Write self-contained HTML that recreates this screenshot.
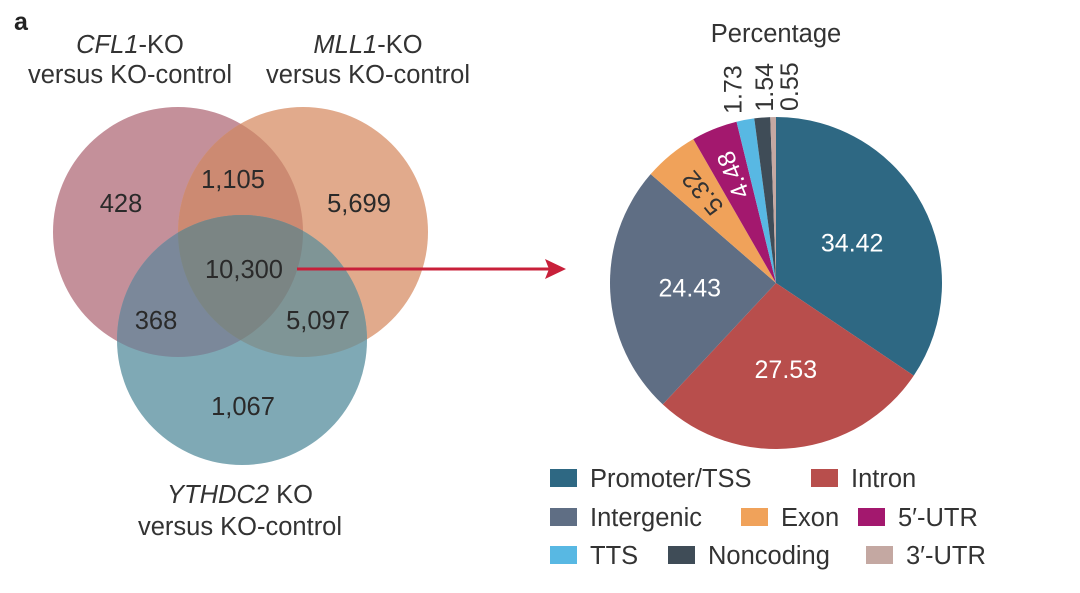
<!DOCTYPE html>
<html><head><meta charset="utf-8"><style>
body{margin:0;background:#fff;}
svg{display:block;font-family:"Liberation Sans",sans-serif;}
</style></head><body>
<svg id="c" width="1080" height="593" viewBox="0 0 1080 593">
<defs>
<clipPath id="cL"><circle cx="178" cy="232" r="125"/></clipPath>
<clipPath id="cR"><circle cx="303" cy="232" r="125"/></clipPath>
</defs>
<text x="14" y="30" font-size="25" font-weight="bold" fill="#222">a</text>
<g font-size="25.5" fill="#333" text-anchor="middle">
<text x="130" y="53"><tspan font-style="italic">CFL1</tspan>-KO</text>
<text x="130" y="83">versus KO-control</text>
<text x="368" y="53"><tspan font-style="italic">MLL1</tspan>-KO</text>
<text x="368" y="83">versus KO-control</text>
<text x="240" y="503"><tspan font-style="italic">YTHDC2</tspan> KO</text>
<text x="240" y="535">versus KO-control</text>
</g>
<g>
<circle cx="178" cy="232" r="125" fill="#c4909a"/>
<circle cx="303" cy="232" r="125" fill="#e1aa8c"/>
<circle cx="303" cy="232" r="125" fill="#cc8a72" clip-path="url(#cL)"/>
<circle cx="242" cy="340" r="125" fill="#7fa9b5"/>
<circle cx="242" cy="340" r="125" fill="#7b889a" clip-path="url(#cL)"/>
<g clip-path="url(#cR)"><circle cx="242" cy="340" r="125" fill="#7f9596"/></g>
<g clip-path="url(#cL)"><g clip-path="url(#cR)"><circle cx="242" cy="340" r="125" fill="#7b8584"/></g></g>
</g>
<g font-size="25.5" fill="#2a2a2a" text-anchor="middle">
<text x="121" y="212">428</text>
<text x="233" y="188">1,105</text>
<text x="359" y="212">5,699</text>
<text x="244" y="278">10,300</text>
<text x="156" y="329">368</text>
<text x="318" y="329">5,097</text>
<text x="243" y="415">1,067</text>
</g>
<g>
<line x1="297" y1="269" x2="550" y2="269" stroke="#c8203a" stroke-width="3"/>
<polygon points="566,269 545,259 549,269 545,279" fill="#c8203a"/>
</g>
<text x="776" y="42" font-size="25.5" fill="#333" text-anchor="middle">Percentage</text>
<g id="pie"></g>
<g id="legend" font-size="25.5" fill="#333"></g>
</svg>
<script>
const categories=["Promoter/TSS","Intron","Intergenic","Exon","5′-UTR","TTS","Noncoding","3′-UTR"];
const values=[34.42,27.53,24.43,5.32,4.48,1.73,1.54,0.55];
const valueLabels=["34.42","27.53","24.43","5.32","4.48","1.73","1.54","0.55"];
const colors=["#2e6883","#b84e4c","#5f6e84","#f0a25a","#a3186e","#58b8e3","#3f4c57","#c4a8a2"];
const NS="http://www.w3.org/2000/svg";
const cx=776,cy=283,R=166;
const pie=document.getElementById('pie');
const total=values.reduce((a,b)=>a+b,0);
function pt(a,r){return [cx+r*Math.sin(a),cy-r*Math.cos(a)];}
let acc=0;
values.forEach((v,i)=>{
  const a0=acc/total*2*Math.PI;acc+=v;const a1=acc/total*2*Math.PI;
  const p0=pt(a0,R),p1=pt(a1,R);
  const path=document.createElementNS(NS,'path');
  path.setAttribute('d',`M${cx},${cy}L${p0[0]},${p0[1]}A${R},${R} 0 ${a1-a0>Math.PI?1:0} 1 ${p1[0]},${p1[1]}Z`);
  path.setAttribute('fill',colors[i]);
  
  
  pie.appendChild(path);
  const am=(a0+a1)/2;
  const t=document.createElementNS(NS,'text');
  t.textContent=valueLabels[i];
  t.setAttribute('font-size','25');
  
  
  if(v>10){
    const p=pt(am,R*0.52);
    t.setAttribute('x',p[0]);t.setAttribute('y',p[1]+9);
    t.setAttribute('text-anchor','middle');t.setAttribute('fill','#fff');
  }else if(v>3){
    const p=pt(am,R*0.7);
    const deg=am*180/Math.PI;
    const rot=deg-90;
    t.setAttribute('x',p[0]);t.setAttribute('y',p[1]+9);
    t.setAttribute('text-anchor','middle');
    t.setAttribute('fill',i===3?'#333':'#fff');
    t.setAttribute('transform',`rotate(${rot} ${p[0]} ${p[1]})`);
  }else{
    const p=pt(am,R+4);
    const x=p[0]+(i-6)*14+11;
    const y=p[1]-2;
    t.setAttribute('x',x);t.setAttribute('y',y);
    t.setAttribute('fill','#333');
    t.setAttribute('transform',`rotate(-90 ${x} ${y})`);
  }
  pie.appendChild(t);
});
const legPos=[[550,469],[811,469],[550,508],[741,508],[858,508],[550,546],[668,546],[866,546]];
const leg=document.getElementById('legend');
categories.forEach((c,i)=>{
  const g=document.createElementNS(NS,'g');
  
  
  const r=document.createElementNS(NS,'rect');
  r.setAttribute('x',legPos[i][0]);r.setAttribute('y',legPos[i][1]);
  r.setAttribute('width',27);r.setAttribute('height',18);r.setAttribute('fill',colors[i]);
  const t=document.createElementNS(NS,'text');
  t.setAttribute('x',legPos[i][0]+40);t.setAttribute('y',legPos[i][1]+18);
  t.textContent=c;
  g.appendChild(r);g.appendChild(t);leg.appendChild(g);
});
</script>
</body></html>
